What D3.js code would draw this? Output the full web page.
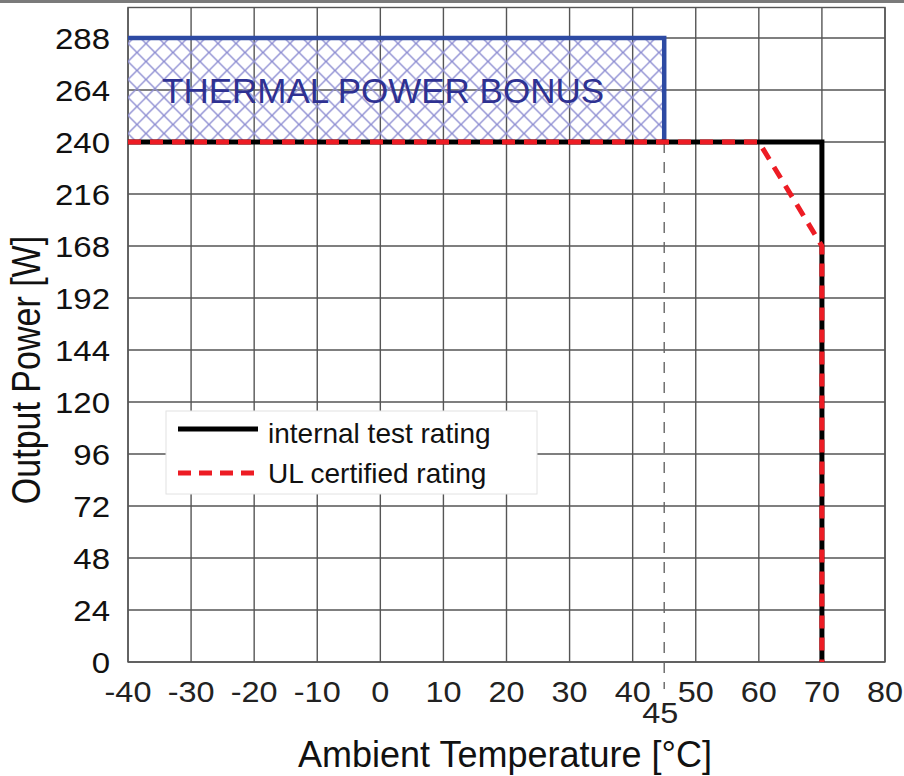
<!DOCTYPE html>
<html>
<head>
<meta charset="utf-8">
<script src="https://cdn.jsdelivr.net/npm/d3@7"></script>
<style>
  body { margin: 0; background: #fff; }
  text { font-family: "Liberation Sans", Arial, Helvetica, sans-serif; }
</style>
</head>
<body>
<div class="chart"></div>
<script>
// Data
var xTicks = [-40, -30, -20, -10, 0, 10, 20, 30, 40, 50, 60, 70, 80];
// y tick labels in the order they appear, bottom to top (sic)
var yTickLabels = [0, 24, 48, 72, 96, 120, 144, 192, 168, 216, 240, 264, 288];

var internalTemp = [-40, 70, 70];
var internalPower = [240, 240, 0];

var ulTemp = [-40, 60, 70, 70];
var ulPower = [240, 240, 168, 0];

var bonusTemp = [-40, 45];
var bonusPower = [240, 288];
var markTemp = 45;

var legendNames = ["internal test rating", "UL certified rating"];

var svgWidth = 904;
var svgHeight = 776;

var margin = { top: 7.5, right: 19, bottom: 114, left: 128 };
var width = svgWidth - margin.left - margin.right;
var height = svgHeight - margin.top - margin.bottom;

var svg = d3.select(".chart")
  .append("svg")
  .attr("width", svgWidth)
  .attr("height", svgHeight);

// grey strip along the top edge of the screenshot
svg.append("rect")
  .attr("x", 0).attr("y", 0)
  .attr("width", svgWidth).attr("height", 3)
  .attr("fill", "#7a7a7a");

var defs = svg.append("defs");
var hatch = defs.append("pattern")
  .attr("id", "hatch")
  .attr("patternUnits", "userSpaceOnUse")
  .attr("width", 18)
  .attr("height", 18);
hatch.append("path")
  .attr("d", "M0,0 L18,18 M18,0 L0,18 M-9,9 L9,27 M9,-9 L27,9 M-9,9 L9,-9 M9,27 L27,9")
  .attr("stroke", "#8f8fd2")
  .attr("stroke-width", 1.4)
  .attr("fill", "none");

var chartGroup = svg.append("g")
  .attr("transform", `translate(${margin.left}, ${margin.top})`);

var xScale = d3.scaleLinear()
  .domain([-40, 80])
  .range([0, width]);

// y positions go by label index (labels are evenly spaced)
var yScale = d3.scaleLinear()
  .domain([0, 12.587])
  .range([height, 0]);

function yPos(v) {
  return yScale(yTickLabels.indexOf(v));
}

var gridColor = "#555";

// vertical grid lines
chartGroup.selectAll(".vgrid")
  .data(xTicks)
  .enter()
  .append("line")
  .attr("x1", d => xScale(d))
  .attr("x2", d => xScale(d))
  .attr("y1", 0)
  .attr("y2", height)
  .attr("stroke", gridColor)
  .attr("stroke-width", 1.4);

// horizontal grid lines
chartGroup.selectAll(".hgrid")
  .data(d3.range(yTickLabels.length))
  .enter()
  .append("line")
  .attr("x1", 0)
  .attr("x2", width)
  .attr("y1", d => yScale(d))
  .attr("y2", d => yScale(d))
  .attr("stroke", gridColor)
  .attr("stroke-width", 1.4);

// frame
chartGroup.append("rect")
  .attr("x", 0).attr("y", 0)
  .attr("width", width).attr("height", height)
  .attr("fill", "none")
  .attr("stroke", gridColor)
  .attr("stroke-width", 1.4);

// thermal power bonus area
var bx0 = xScale(bonusTemp[0]), bx1 = xScale(bonusTemp[1]);
var by0 = yPos(bonusPower[0]), by1 = yPos(bonusPower[1]);
chartGroup.append("rect")
  .attr("x", bx0).attr("y", by1)
  .attr("width", bx1 - bx0).attr("height", by0 - by1)
  .attr("fill", "url(#hatch)");

chartGroup.append("path")
  .attr("d", `M${bx0},${by1} L${bx1},${by1} L${bx1},${by0}`)
  .attr("fill", "none")
  .attr("stroke", "#2d4aa3")
  .attr("stroke-width", 4.5);

chartGroup.append("text")
  .attr("x", xScale(-40) + 34)
  .attr("y", (by0 + by1) / 2 + 13)
  .attr("fill", "#2e3192")
  .attr("font-size", 35)
  .text("THERMAL POWER BONUS");

// dashed marker at 45 °C
chartGroup.append("line")
  .attr("x1", xScale(markTemp)).attr("x2", xScale(markTemp))
  .attr("y1", yPos(240)).attr("y2", height + 27)
  .attr("stroke", "#666")
  .attr("stroke-width", 1.4)
  .attr("stroke-dasharray", "11,9");

var line = d3.line()
  .x(d => xScale(d[0]))
  .y(d => yPos(d[1]));

chartGroup.append("path")
  .datum(d3.zip(internalTemp, internalPower))
  .attr("d", line)
  .attr("fill", "none")
  .attr("stroke", "#000")
  .attr("stroke-width", 5);

chartGroup.append("path")
  .datum(d3.zip(ulTemp, ulPower))
  .attr("d", line)
  .attr("fill", "none")
  .attr("stroke", "#ed1c24")
  .attr("stroke-width", 5)
  .attr("stroke-dasharray", "13,9");

// x tick labels (slightly stretched, like the original face)
chartGroup.selectAll(".xlabel")
  .data(xTicks)
  .enter()
  .append("text")
  .attr("transform", d => `translate(${xScale(d)}, ${height + 40}) scale(1.08, 1)`)
  .attr("text-anchor", "middle")
  .attr("font-size", 30)
  .attr("fill", "#222")
  .text(d => d);

chartGroup.append("text")
  .attr("transform", `translate(${xScale(markTemp) - 4}, ${height + 61}) scale(1.08, 1)`)
  .attr("text-anchor", "middle")
  .attr("font-size", 30)
  .attr("fill", "#222")
  .text(markTemp);

// y tick labels
chartGroup.selectAll(".ylabel")
  .data(yTickLabels)
  .enter()
  .append("text")
  .attr("transform", (d, i) => `translate(-18, ${yScale(i) + 10.5}) scale(1.1, 1)`)
  .attr("text-anchor", "end")
  .attr("font-size", 30)
  .attr("fill", "#111")
  .text(d => d);

// axis titles
chartGroup.append("text")
  .attr("x", (300 + 710) / 2 - margin.left)
  .attr("y", height + 105)
  .attr("text-anchor", "middle")
  .attr("font-size", 36)
  .attr("fill", "#111")
  .text("Ambient Temperature [°C]");

chartGroup.append("text")
  .attr("transform", `translate(${40 - margin.left}, ${370 - margin.top}) rotate(-90) scale(1, 1.2)`)
  .attr("text-anchor", "middle")
  .attr("font-size", 34)
  .attr("fill", "#111")
  .text("Output Power [W]");

// legend
var legend = chartGroup.append("g")
  .attr("transform", `translate(${166 - margin.left}, ${411 - margin.top})`);

legend.append("rect")
  .attr("width", 371).attr("height", 83)
  .attr("fill", "#fff")
  .attr("stroke", "#e2e2e2")
  .attr("stroke-width", 1);

legend.selectAll(".legline")
  .data(legendNames)
  .enter()
  .append("line")
  .attr("x1", 12).attr("x2", 92)
  .attr("y1", (d, i) => 18 + i * 44)
  .attr("y2", (d, i) => 18 + i * 44)
  .attr("stroke", (d, i) => i === 0 ? "#000" : "#ed1c24")
  .attr("stroke-width", 5)
  .attr("stroke-dasharray", (d, i) => i === 0 ? null : "13,8");

legend.selectAll(".legtext")
  .data(legendNames)
  .enter()
  .append("text")
  .attr("x", 102)
  .attr("y", (d, i) => 32 + i * 40)
  .attr("font-size", 28)
  .attr("fill", "#111")
  .text(d => d);
</script>
</body>
</html>
